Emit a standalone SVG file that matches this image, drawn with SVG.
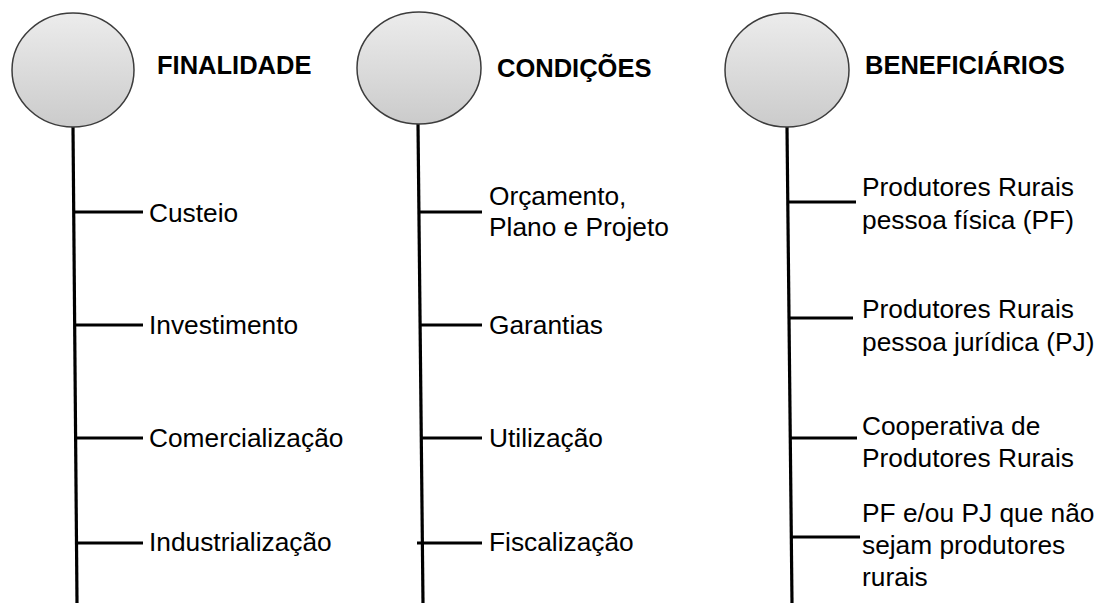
<svg xmlns="http://www.w3.org/2000/svg" width="1100" height="603" viewBox="0 0 1100 603">
<defs>
<linearGradient id="g" x1="0" y1="0" x2="0" y2="1">
<stop offset="0" stop-color="#ececec"/>
<stop offset="1" stop-color="#cbcbcb"/>
</linearGradient>
<style>
.c{fill:url(#g);stroke:#3c3c3c;stroke-width:1.5}
.h{font-family:"Liberation Sans",Arial,sans-serif;font-weight:bold;font-size:25.5px;fill:#000}
.t{font-family:"Liberation Sans",Arial,sans-serif;font-size:26.3px;fill:#000}
.l{stroke:#000;stroke-width:3.2;fill:none}
</style>
</defs>
<rect width="1100" height="603" fill="#fff"/>
<g id="connectors">
<line class="l" x1="73" y1="127" x2="77" y2="603"/>
<line class="l" x1="418" y1="124" x2="423" y2="603"/>
<line class="l" x1="787" y1="127" x2="792" y2="603"/>
<line class="l" x1="75" y1="212" x2="143" y2="212"/>
<line class="l" x1="76" y1="325" x2="143" y2="325"/>
<line class="l" x1="76" y1="438" x2="143" y2="438"/>
<line class="l" x1="76" y1="543" x2="143" y2="543"/>
<line class="l" x1="419" y1="212" x2="482" y2="212"/>
<line class="l" x1="420" y1="325" x2="482" y2="325"/>
<line class="l" x1="421" y1="438" x2="482" y2="438"/>
<line class="l" x1="417" y1="543" x2="482" y2="543"/>
<line class="l" x1="789" y1="202" x2="856" y2="202"/>
<line class="l" x1="790" y1="318" x2="853" y2="318"/>
<line class="l" x1="790" y1="438" x2="857" y2="438"/>
<line class="l" x1="791" y1="537" x2="860" y2="537"/>
</g>
<g id="finalidade">
<ellipse class="c" cx="73" cy="70" rx="61" ry="57"/>
<text class="h" x="157" y="74">FINALIDADE</text>
</g>
<g id="condicoes">
<ellipse class="c" cx="419" cy="68" rx="62" ry="56"/>
<text class="h" x="497" y="77">CONDIÇÕES</text>
</g>
<g id="beneficiarios">
<ellipse class="c" cx="787" cy="70" rx="62" ry="57"/>
<text class="h" x="865" y="74">BENEFICIÁRIOS</text>
</g>
<g id="custeio"><text class="t" x="149" y="222">Custeio</text></g>
<g id="investimento"><text class="t" x="149" y="334">Investimento</text></g>
<g id="comercializacao"><text class="t" x="149" y="447">Comercialização</text></g>
<g id="industrializacao"><text class="t" x="149" y="551">Industrialização</text></g>
<g id="orcamento"><text class="t" x="489" y="205">Orçamento,<tspan x="489" y="236">Plano e Projeto</tspan></text></g>
<g id="garantias"><text class="t" x="489" y="334">Garantias</text></g>
<g id="utilizacao"><text class="t" x="489" y="447">Utilização</text></g>
<g id="fiscalizacao"><text class="t" x="489" y="551">Fiscalização</text></g>
<g id="pf"><text class="t" x="862" y="196">Produtores Rurais<tspan x="862" y="229">pessoa física (PF)</tspan></text></g>
<g id="pj"><text class="t" x="862" y="318">Produtores Rurais<tspan x="862" y="351">pessoa jurídica (PJ)</tspan></text></g>
<g id="cooperativa"><text class="t" x="862" y="435">Cooperativa de<tspan x="862" y="467">Produtores Rurais</tspan></text></g>
<g id="outros"><text class="t" x="862" y="522">PF e/ou PJ que não<tspan x="862" y="554">sejam produtores</tspan><tspan x="862" y="586">rurais</tspan></text></g>
</svg>
